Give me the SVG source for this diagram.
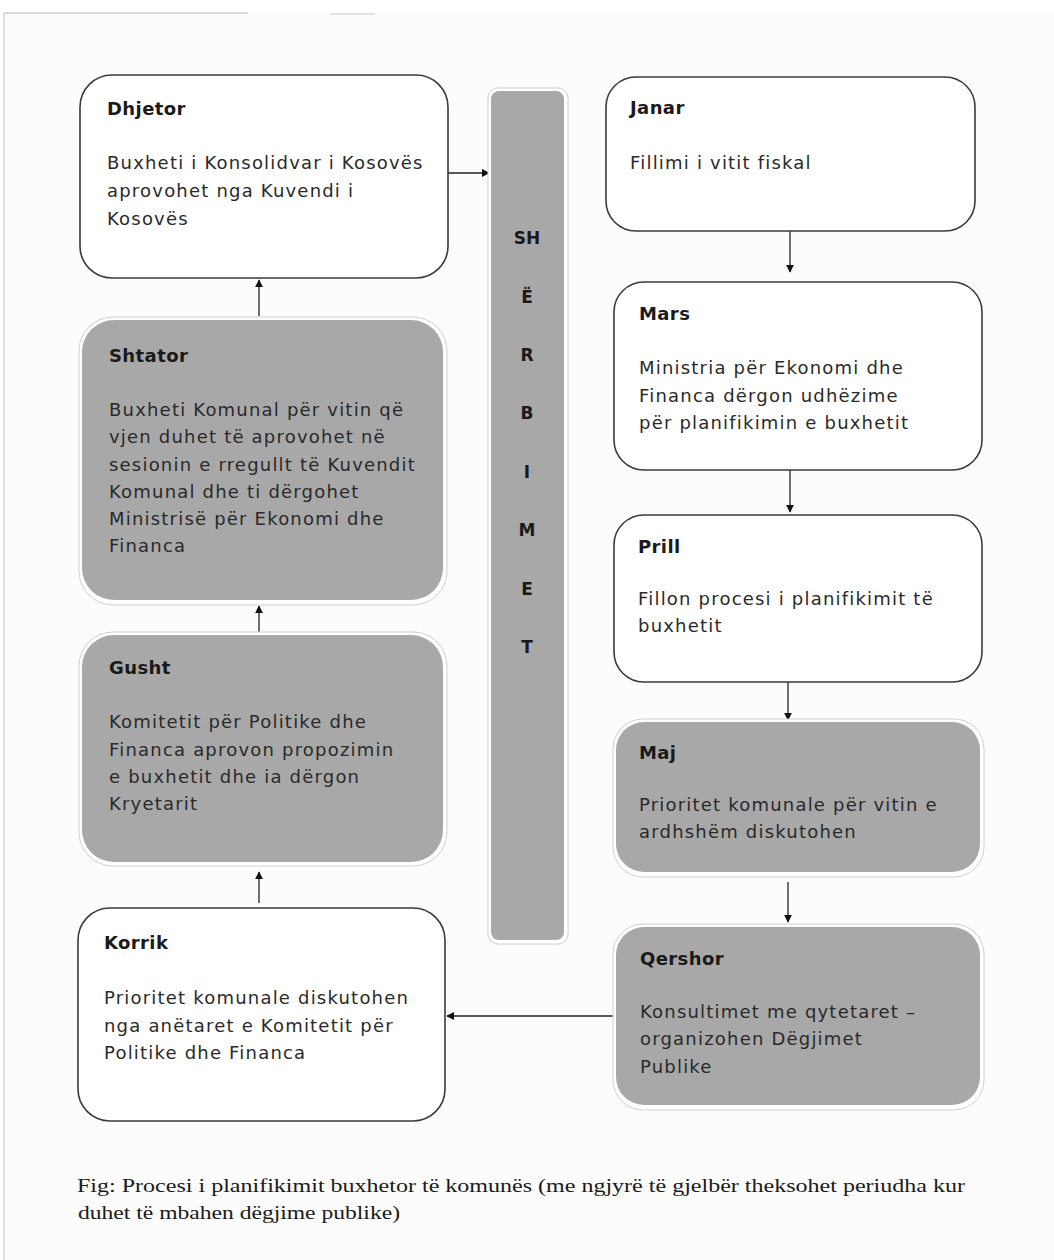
<svg xmlns="http://www.w3.org/2000/svg" width="1054" height="1260" viewBox="0 0 1054 1260">
<defs>
<style>
.box{stroke:#3a3a3a;stroke-width:1.6}
.w{fill:#ffffff}
.g{fill:#a8a8a8}
.halo{fill:#ffffff;stroke:#d0d0d0;stroke-width:1}
.t{font-family:"DejaVu Sans",sans-serif;font-size:18px;font-weight:bold;letter-spacing:0.4px;fill:#1a1a1a}
.b{font-family:"DejaVu Sans",sans-serif;font-size:18px;letter-spacing:1.2px;fill:#2a2a2a}
.v{font-family:"DejaVu Sans",sans-serif;font-size:17px;font-weight:bold;fill:#1a1a1a;text-anchor:middle}
.cap{font-family:"Liberation Serif",serif;font-size:18px;fill:#1a1a1a}
.c{stroke:#222;stroke-width:1.3;fill:none;marker-end:url(#ah)}
</style>
<marker id="ah" viewBox="0 0 10 10" refX="9" refY="5" markerWidth="8" markerHeight="8" markerUnits="userSpaceOnUse" orient="auto">
<path d="M0,0 L10,5 L0,10 z" fill="#111"/>
</marker>
</defs>
<rect x="0" y="0" width="1054" height="1260" fill="#ffffff"/>
<rect x="4" y="13" width="1050" height="1247" fill="#fcfcfc"/>
<line x1="4" y1="13" x2="248" y2="13" stroke="#b8b8b8" stroke-width="1"/>
<line x1="330" y1="14" x2="375" y2="14" stroke="#c8c8c8" stroke-width="1"/>
<line x1="4" y1="13" x2="4" y2="1260" stroke="#c0c0c0" stroke-width="1"/>

<g id="connectors">
<line class="c" x1="448" y1="173" x2="489" y2="173"/>
<line class="c" x1="790" y1="231" x2="790" y2="272"/>
<line class="c" x1="790" y1="470" x2="790" y2="512"/>
<line class="c" x1="788" y1="682" x2="788" y2="720"/>
<line class="c" x1="788" y1="882" x2="788" y2="922"/>
<line class="c" x1="614" y1="1016" x2="447" y2="1016"/>
<line class="c" x1="259" y1="903" x2="259" y2="872"/>
<line class="c" x1="259" y1="632" x2="259" y2="606"/>
<line class="c" x1="259" y1="316" x2="259" y2="280"/>
</g>

<g id="sherbimet">
<rect class="halo" x="488" y="88" width="80" height="856" rx="10"/>
<rect x="491" y="91" width="73" height="849" rx="8" fill="#a8a8a8"/>
<text class="v" x="527" y="244">SH</text>
<text class="v" x="527" y="303">Ë</text>
<text class="v" x="527" y="361">R</text>
<text class="v" x="527" y="419">B</text>
<text class="v" x="527" y="478">I</text>
<text class="v" x="527" y="536">M</text>
<text class="v" x="527" y="595">E</text>
<text class="v" x="527" y="653">T</text>
</g>

<g id="dhjetor">
<rect class="box w" x="80" y="75" width="368" height="203" rx="32"/>
<text class="t" x="107" y="115">Dhjetor</text>
<text class="b" x="107" y="169">Buxheti i Konsolidvar i Kosovës</text>
<text class="b" x="107" y="197">aprovohet nga Kuvendi i</text>
<text class="b" x="107" y="225">Kosovës</text>
</g>

<g id="shtator">
<rect class="halo" x="79" y="317" width="368" height="288" rx="34"/>
<rect class="g" x="82" y="320" width="361" height="280" rx="32"/>
<text class="t" x="109" y="362">Shtator</text>
<text class="b" x="109" y="416">Buxheti Komunal për vitin që</text>
<text class="b" x="109" y="443">vjen duhet të aprovohet në</text>
<text class="b" x="109" y="471">sesionin e rregullt të Kuvendit</text>
<text class="b" x="109" y="498">Komunal dhe ti dërgohet</text>
<text class="b" x="109" y="525">Ministrisë për Ekonomi dhe</text>
<text class="b" x="109" y="552">Financa</text>
</g>

<g id="gusht">
<rect class="halo" x="79" y="632" width="368" height="234" rx="34"/>
<rect class="g" x="82" y="635" width="361" height="227" rx="32"/>
<text class="t" x="109" y="674">Gusht</text>
<text class="b" x="109" y="728">Komitetit për Politike dhe</text>
<text class="b" x="109" y="756">Financa aprovon propozimin</text>
<text class="b" x="109" y="783">e buxhetit dhe ia dërgon</text>
<text class="b" x="109" y="810">Kryetarit</text>
</g>

<g id="korrik">
<rect class="box w" x="78" y="908" width="367" height="213" rx="32"/>
<text class="t" x="104" y="949">Korrik</text>
<text class="b" x="104" y="1004">Prioritet komunale diskutohen</text>
<text class="b" x="104" y="1032">nga anëtaret e Komitetit për</text>
<text class="b" x="104" y="1059">Politike dhe Financa</text>
</g>

<g id="janar">
<rect class="box w" x="606" y="77" width="369" height="154" rx="30"/>
<text class="t" x="630" y="114">Janar</text>
<text class="b" x="630" y="169">Fillimi i vitit fiskal</text>
</g>

<g id="mars">
<rect class="box w" x="614" y="282" width="368" height="188" rx="30"/>
<text class="t" x="639" y="320">Mars</text>
<text class="b" x="639" y="374">Ministria për Ekonomi dhe</text>
<text class="b" x="639" y="402">Financa dërgon udhëzime</text>
<text class="b" x="639" y="429">për planifikimin e buxhetit</text>
</g>

<g id="prill">
<rect class="box w" x="614" y="515" width="368" height="167" rx="30"/>
<text class="t" x="638" y="553">Prill</text>
<text class="b" x="638" y="605">Fillon procesi i planifikimit të</text>
<text class="b" x="638" y="632">buxhetit</text>
</g>

<g id="maj">
<rect class="halo" x="613" y="719" width="371" height="158" rx="30"/>
<rect class="g" x="616" y="722" width="364" height="150" rx="28"/>
<text class="t" x="639" y="759">Maj</text>
<text class="b" x="639" y="811">Prioritet komunale për vitin e</text>
<text class="b" x="639" y="838">ardhshëm diskutohen</text>
</g>

<g id="qershor">
<rect class="halo" x="613" y="924" width="371" height="186" rx="30"/>
<rect class="g" x="616" y="927" width="364" height="178" rx="28"/>
<text class="t" x="640" y="965">Qershor</text>
<text class="b" x="640" y="1018">Konsultimet me qytetaret –</text>
<text class="b" x="640" y="1045">organizohen Dëgjimet</text>
<text class="b" x="640" y="1073">Publike</text>
</g>

<g id="caption">
<text class="cap" x="77" y="1192" textLength="888" lengthAdjust="spacingAndGlyphs">Fig: Procesi i planifikimit buxhetor të komunës (me ngjyrë të gjelbër theksohet periudha kur</text>
<text class="cap" x="78" y="1219" textLength="322" lengthAdjust="spacingAndGlyphs">duhet të mbahen dëgjime publike)</text>
</g>
</svg>
